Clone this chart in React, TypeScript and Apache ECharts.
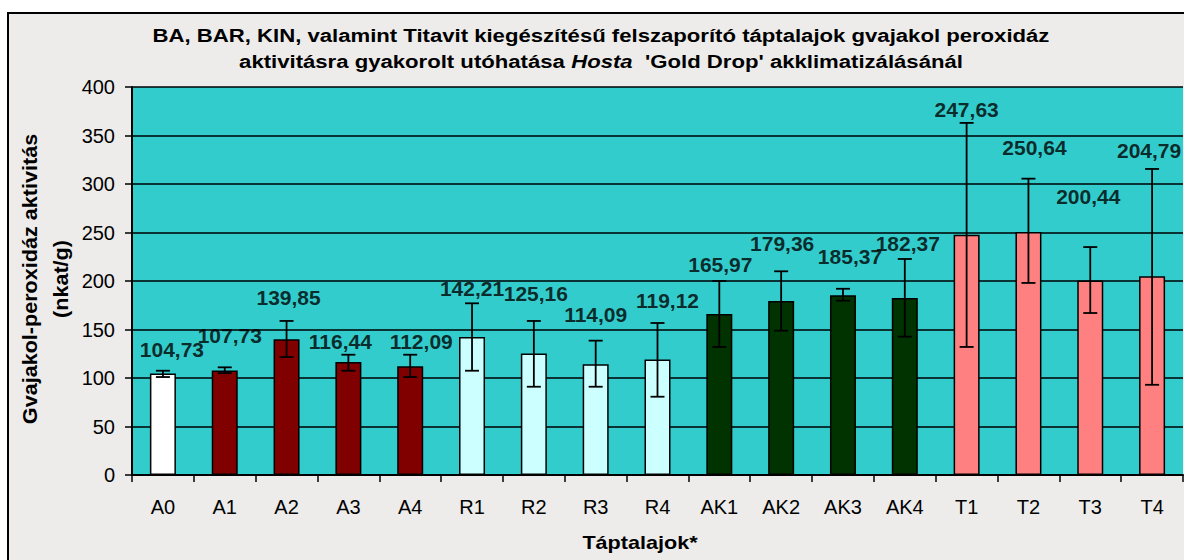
import React, { useEffect, useRef } from "react";
import * as echarts from "echarts";

const categories = ["A0", "A1", "A2", "A3", "A4", "R1", "R2", "R3", "R4", "AK1", "AK2", "AK3", "AK4", "T1", "T2", "T3", "T4"];
const values = [104.73, 107.73, 139.85, 116.44, 112.09, 142.21, 125.16, 114.09, 119.12, 165.97, 179.36, 185.37, 182.37, 247.63, 250.64, 200.44, 204.79];
const errLow = [101, 105, 121.6, 107.5, 101, 107.5, 91, 91, 80.7, 132, 148.8, 179.7, 142.6, 132, 198, 167, 93];
const errHigh = [107.5, 111, 158.8, 124, 124, 177, 158.8, 138.5, 156.7, 200, 210, 192, 222.7, 363, 305.5, 235, 315.5];
// label anchor heights (value units)
const labelAt = [128.9, 144.3, 183.5, 138.1, 138.1, 192, 186.6, 165, 179.7, 216.5, 239, 225, 239, 377, 337.4, 286.6, 335];
// small horizontal nudges of the value labels (px), as in the picture
const labelNudge = [9, 5, 2, -8, 11, 0, 2, 0, 10, 1, 1, 7, 3, 0, 6, -2, -3];
const groupColors = ["#FFFFFF", "#800000", "#800000", "#800000", "#800000", "#CCFFFF", "#CCFFFF", "#CCFFFF", "#CCFFFF", "#003300", "#003300", "#003300", "#003300", "#FF8080", "#FF8080", "#FF8080", "#FF8080"];
const yTicks = { min: 0, max: 400, interval: 50 };

const fmt = (v: number) => v.toFixed(2).replace(".", ",");

export default function App() {
  const ref = useRef<HTMLDivElement>(null);
  useEffect(() => {
    document.body.style.margin = "0";
    const chart = echarts.init(ref.current!, null, { renderer: "svg" });
    const font = "'Liberation Sans', Arial, sans-serif";
    chart.setOption({
      animation: false,
      backgroundColor: "#FFFFFF",
      textStyle: { fontFamily: font },
      graphic: [
        {
          type: "rect",
          z: -10,
          shape: { x: 8, y: 13, width: 1190, height: 560 },
          style: { fill: "#EDECEA", stroke: "#000", lineWidth: 2 },
        },
        {
          type: "text",
          x: 601,
          y: 36,
          scaleX: 1.23,
          style: {
            text: "BA, BAR, KIN, valamint Titavit kiegészítésű felszaporító táptalajok gvajakol peroxidáz",
            font: `bold 18px ${font}`,
            fill: "#000",
            align: "center",
            verticalAlign: "middle",
          },
        },
        {
          type: "text",
          x: 601,
          y: 62,
          scaleX: 1.23,
          style: {
            text: "{n|aktivitásra gyakorolt utóhatása }{i|Hosta}{n|  'Gold Drop' akklimatizálásánál}",
            align: "center",
            verticalAlign: "middle",
            rich: {
              n: { font: `bold 18px ${font}`, fill: "#000" },
              i: { font: `italic bold 18px ${font}`, fill: "#000" },
            },
          },
        },
        {
          type: "text",
          x: 45,
          y: 279,
          rotation: Math.PI / 2,
          scaleX: 1.08,
          style: {
            text: "Gvajakol-peroxidáz aktivitás\n(nkat/g)",
            font: `bold 20px ${font}`,
            fill: "#000",
            align: "center",
            verticalAlign: "middle",
            lineHeight: 31,
          },
        },
        {
          type: "text",
          x: 640,
          y: 543,
          scaleX: 1.2,
          style: {
            text: "Táptalajok*",
            font: `bold 18px ${font}`,
            fill: "#000",
            align: "center",
            verticalAlign: "middle",
          },
        },
      ],
      grid: {
        left: 132,
        right: 1,
        top: 87,
        bottom: 85,
        show: true,
        backgroundColor: "#33CCCC",
        borderWidth: 0,
      },
      xAxis: {
        type: "category",
        data: categories,
        axisLine: { lineStyle: { color: "#000", width: 2 } },
        axisTick: { show: true, length: 7, lineStyle: { color: "#000", width: 1.5 } },
        axisLabel: { color: "#000", fontSize: 20, margin: 22, fontFamily: font },
        splitLine: { show: false },
      },
      yAxis: {
        type: "value",
        min: yTicks.min,
        max: yTicks.max,
        interval: yTicks.interval,
        axisLine: { show: true, lineStyle: { color: "#000", width: 2 } },
        axisTick: { show: true, length: 7, lineStyle: { color: "#000", width: 1.5 } },
        axisLabel: { color: "#000", fontSize: 20, margin: 17, fontFamily: font },
        splitLine: { show: true, lineStyle: { color: "#000", width: 1.5 } },
      },
      series: [
        {
          type: "bar",
          barWidth: 26,
          data: values.map((v, i) => ({
            value: v,
            itemStyle: { color: groupColors[i], borderColor: "#000", borderWidth: 1.5 },
          })),
          z: 2,
        },
        {
          type: "custom",
          z: 3,
          data: categories.map((c, i) => [i, errLow[i], errHigh[i]]),
          renderItem: (params: any, api: any) => {
            const x = api.value(0);
            const lo = api.coord([x, api.value(1)]);
            const hi = api.coord([x, api.value(2)]);
            const cap = 7;
            const st = { stroke: "#000", lineWidth: 1.8 };
            return {
              type: "group",
              children: [
                { type: "line", shape: { x1: lo[0], y1: lo[1], x2: hi[0], y2: hi[1] }, style: st },
                { type: "line", shape: { x1: lo[0] - cap, y1: lo[1], x2: lo[0] + cap, y2: lo[1] }, style: st },
                { type: "line", shape: { x1: hi[0] - cap, y1: hi[1], x2: hi[0] + cap, y2: hi[1] }, style: st },
              ],
            };
          },
        },
        {
          type: "scatter",
          symbolSize: 0,
          z: 4,
          itemStyle: { color: "#000" },
          data: categories.map((c, i) => ({
            value: [i, labelAt[i], values[i]],
            label: { offset: [labelNudge[i], 0] },
          })),
          label: {
            show: true,
            position: "inside",
            formatter: (p: any) => fmt(p.value[2]),
            color: "#000",
            fontWeight: "bold",
            fontSize: 21,
            fontFamily: font,
            textBorderWidth: 0,
            textBorderColor: "transparent",
          },
        },
      ],
    });
    return () => chart.dispose();
  }, []);
  return <div ref={ref} style={{ width: 1184, height: 560 }} />;
}
